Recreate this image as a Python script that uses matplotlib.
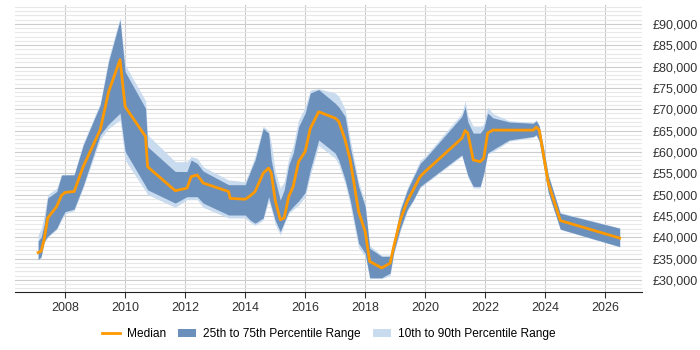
import matplotlib.pyplot as plt
from matplotlib.ticker import MultipleLocator, FuncFormatter

# Pontos (ano decimal) e percentis salariais em milhares de libras
anos = [2007.1, 2007.2, 2007.3, 2007.42, 2007.72, 2007.88, 2008.0, 2008.3, 2008.6, 2009.17,
        2009.45, 2009.83, 2010.0, 2010.68, 2010.75, 2011.67, 2012.06, 2012.2, 2012.4, 2012.6,
        2013.45, 2013.5, 2014.0, 2014.17, 2014.33, 2014.6, 2014.78, 2014.87, 2015.0, 2015.17,
        2015.3, 2015.45, 2015.6, 2015.78, 2016.0, 2016.17, 2016.45, 2017.0, 2017.12, 2017.33,
        2017.5, 2017.78, 2018.0, 2018.15, 2018.55, 2018.83, 2018.95, 2019.17, 2019.4, 2019.6,
        2019.83, 2020.0, 2021.22, 2021.33, 2021.42, 2021.6, 2021.83, 2021.95, 2022.08, 2022.25,
        2022.8, 2023.6, 2023.7, 2023.8, 2023.95, 2024.1, 2024.5, 2026.48]

mediana = [36.4, 36.7, 39.4, 44.5, 47.2, 49.8, 50.5, 50.7, 56.5, 65.2,
           74.1, 81.6, 70.6, 63.6, 56.5, 50.9, 51.5, 54.2, 54.6, 52.7,
           50.7, 49.1, 48.9, 49.7, 50.7, 55.0, 56.2, 55.0, 48.7, 44.1,
           44.5, 49.5, 51.9, 57.7, 60.1, 65.5, 69.4, 67.9, 67.1, 62.8,
           58.1, 46.0, 41.3, 34.3, 32.8, 33.9, 37.8, 44.1, 48.4, 51.1,
           54.2, 55.4, 63.2, 65.0, 64.4, 58.1, 57.7, 58.5, 64.4, 65.1,
           65.1, 65.1, 65.8, 65.1, 58.9, 52.7, 43.9, 39.8]

p25 = [34.7, 35.5, 39.0, 40.2, 42.1, 44.5, 46.0, 46.6, 52.0, 64.0,
       66.5, 69.1, 60.1, 52.0, 51.1, 48.0, 49.5, 49.5, 49.5, 48.0,
       45.2, 45.2, 45.2, 44.0, 43.3, 44.5, 49.5, 47.2, 44.0, 41.3,
       43.5, 46.0, 47.2, 48.5, 50.5, 55.8, 62.8, 59.7, 58.0, 53.5,
       48.7, 38.6, 36.2, 30.5, 30.5, 31.6, 36.5, 42.0, 46.5, 48.7,
       51.9, 52.8, 59.3, 56.6, 54.5, 51.9, 51.9, 55.0, 59.7, 60.5,
       62.8, 63.6, 64.0, 62.5, 56.5, 50.5, 41.9, 37.8]

p75 = [39.1, 40.0, 43.0, 49.2, 50.7, 54.6, 54.6, 54.6, 61.5, 71.0,
       81.2, 90.9, 78.8, 70.2, 61.2, 55.4, 55.4, 58.1, 57.3, 55.5,
       52.3, 52.3, 52.3, 55.4, 58.1, 65.5, 64.4, 58.0, 53.4, 48.7,
       51.1, 56.9, 59.7, 65.9, 69.1, 73.8, 74.6, 71.4, 70.5, 68.3,
       61.2, 51.9, 47.2, 37.4, 35.5, 35.5, 39.0, 46.4, 51.0, 54.0,
       57.3, 58.5, 68.3, 70.6, 67.0, 64.4, 64.4, 65.5, 69.1, 68.0,
       67.0, 66.7, 67.3, 66.0, 60.5, 54.5, 45.6, 42.1]

p10 = [34.7, 35.0, 38.5, 40.0, 41.8, 44.0, 45.5, 46.2, 51.5, 63.0,
       65.5, 67.5, 58.1, 50.8, 50.0, 47.0, 48.8, 48.8, 48.8, 47.0,
       44.5, 44.5, 44.5, 43.5, 42.8, 44.0, 48.5, 46.5, 43.0, 40.5,
       43.0, 45.5, 46.5, 47.5, 49.5, 54.5, 61.5, 58.5, 57.0, 52.5,
       47.5, 37.5, 35.5, 30.3, 30.3, 31.0, 36.0, 41.5, 46.0, 48.5,
       51.5, 52.5, 59.0, 56.5, 54.0, 51.5, 51.5, 54.5, 59.5, 60.0,
       62.5, 63.4, 63.8, 62.3, 56.3, 50.3, 41.8, 37.7]

p90 = [40.5, 42.0, 45.0, 50.0, 51.5, 54.6, 54.6, 54.8, 62.0, 71.5,
       82.0, 91.5, 80.4, 72.0, 64.0, 57.7, 57.7, 58.9, 58.5, 56.5,
       53.4, 53.4, 53.0, 56.0, 59.0, 66.0, 65.0, 62.0, 55.5, 51.5,
       53.0, 58.5, 61.5, 67.5, 70.5, 74.5, 74.8, 73.8, 73.0, 70.0,
       63.0, 53.0, 48.0, 38.0, 35.8, 35.8, 39.5, 47.0, 51.5, 54.5,
       58.0, 59.0, 69.0, 72.0, 68.5, 66.0, 65.9, 66.5, 70.5, 69.0,
       67.3, 66.9, 67.5, 66.3, 60.8, 54.8, 45.8, 42.2]

# converter para libras
mediana = [v * 1000 for v in mediana]
p25 = [v * 1000 for v in p25]
p75 = [v * 1000 for v in p75]
p10 = [v * 1000 for v in p10]
p90 = [v * 1000 for v in p90]

plt.rcParams['font.family'] = ['Liberation Sans', 'DejaVu Sans']

fig = plt.figure(figsize=(7, 3.5), dpi=100)
ax = fig.add_axes([0.021, 0.166, 0.896, 0.82])

# Faixas de percentis
ax.fill_between(anos, p10, p90, color='#c9dbee', linewidth=0, label='10th to 90th Percentile Range', zorder=2)
ax.fill_between(anos, p25, p75, color='#6c90bc', linewidth=0, label='25th to 75th Percentile Range', zorder=3)
ax.plot(anos, mediana, color='#ff9900', linewidth=2, label='Median', zorder=4)

ax.set_xlim(2006.32, 2027.22)
ax.set_ylim(27180, 94450)

# Grade
ax.yaxis.set_major_locator(MultipleLocator(5000))
ax.yaxis.set_minor_locator(MultipleLocator(1000))
ax.xaxis.set_major_locator(MultipleLocator(2))
ax.grid(which='major', axis='both', color='#cccccc', linewidth=0.8, zorder=0)
ax.grid(which='minor', axis='y', color='#e8e8e8', linewidth=0.8, zorder=0)
ax.set_axisbelow(True)

ax.yaxis.tick_right()
ax.yaxis.set_major_formatter(FuncFormatter(lambda v, p: '£{:,.0f}'.format(v)))
ax.tick_params(axis='y', which='both', length=0, pad=8, labelsize=9, labelcolor='#333333')
ax.tick_params(axis='x', which='major', length=4, labelsize=9, labelcolor='#333333', color='#333333')

for lado in ['left', 'top', 'right']:
    ax.spines[lado].set_visible(False)
ax.spines['bottom'].set_color('#222222')

handles, labels = ax.get_legend_handles_labels()
ordem = [2, 1, 0]
fig.legend([handles[i] for i in ordem], [labels[i] for i in ordem], loc='center',
           bbox_to_anchor=(0.47, 0.045), ncol=3, frameon=False, fontsize=8.6,
           handlelength=1.5, handletextpad=0.6, columnspacing=1.0)

fig.savefig('out.png', dpi=100)
